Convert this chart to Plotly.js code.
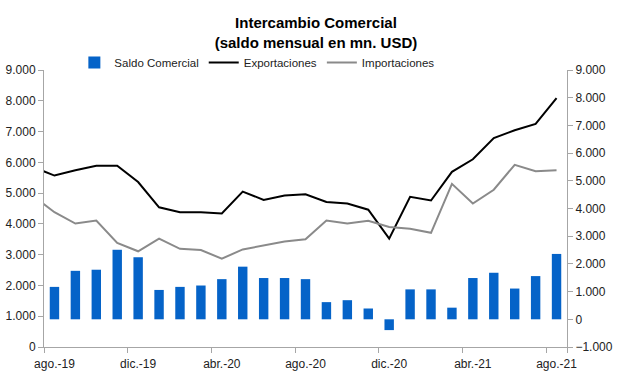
<!DOCTYPE html>
<html>
<head>
<meta charset="utf-8">
<script src="https://cdn.plot.ly/plotly-3.0.1.min.js"></script>
<style>html,body{margin:0;padding:0;background:#fff;}#chart{width:617px;height:383px;}</style>
</head>
<body>
<div id="chart"></div>
<script>
// months (jul.-19 only partially visible at the left edge of the line series)
const months = ['jul.-19','ago.-19','sep.-19','oct.-19','nov.-19','dic.-19','ene.-20','feb.-20','mar.-20','abr.-20','may.-20','jun.-20','jul.-20','ago.-20','sep.-20','oct.-20','nov.-20','dic.-20','ene.-21','feb.-21','mar.-21','abr.-21','may.-21','jun.-21','jul.-21','ago.-21'];
const exportaciones = [5840,5570,5740,5890,5890,5360,4540,4380,4380,4340,5050,4780,4920,4960,4710,4660,4460,3520,4880,4760,5690,6100,6790,7040,7250,8090];
const importaciones = [4890,4380,4010,4110,3380,3110,3520,3190,3150,2870,3170,3300,3430,3500,4110,4010,4100,3900,3840,3710,5300,4660,5110,5920,5710,5740];
const saldo = [null,1170,1750,1790,2510,2240,1060,1170,1220,1450,1900,1490,1490,1450,620,690,390,-390,1080,1080,420,1490,1680,1110,1560,2360];
const tickLabels = ['ago.-19','dic.-19','abr.-20','ago.-20','dic.-20','abr.-21','ago.-21'];

const font = 'Liberation Sans, Arial, sans-serif';
const traces = [
  {type:'bar', name:'Saldo Comercial', x:months, y:saldo, yaxis:'y', marker:{color:'#0563C8'}},
  {type:'scatter', mode:'lines', name:'Exportaciones', x:months, y:exportaciones, yaxis:'y2', line:{color:'#000000', width:2}},
  {type:'scatter', mode:'lines', name:'Importaciones', x:months, y:importaciones, yaxis:'y2', line:{color:'#8a8a8a', width:2}}
];
const axisCommon = {showgrid:false, zeroline:false, showline:true, linecolor:'#a6a6a6', linewidth:1, ticks:'outside', ticklen:5, tickcolor:'#a6a6a6', tickfont:{family:font, size:12, color:'#222'}};
const layout = {
  width:617, height:383,
  margin:{l:44, r:50, t:70, b:35.5, pad:0},
  paper_bgcolor:'#fff', plot_bgcolor:'#fff',
  separators:',.',
  font:{family:font, size:12, color:'#222'},
  title:{text:'<b>Intercambio Comercial<br>(saldo mensual en mn. USD)</b>', font:{family:font, size:15, color:'#000'}, x:0.52, xanchor:'center', xref:'paper', yref:'container', y:0.926, yanchor:'middle'},
  bargap:0.55,
  showlegend:true,
  legend:{orientation:'h', x:0.407, xanchor:'center', y:0.975, yanchor:'bottom', font:{family:font, size:11.5, color:'#222'}, traceorder:'normal', itemwidth:30, bgcolor:'rgba(0,0,0,0)'},
  xaxis: Object.assign({}, axisCommon, {type:'category', range:[0.5, 25.5], tickmode:'array', tickvals:tickLabels, tickson:'boundaries', tickangle:0, ticklabelstandoff:6}),
  yaxis: Object.assign({}, axisCommon, {side:'right', range:[-1000, 9000], dtick:1000, tick0:0, tickformat:','}),
  yaxis2: Object.assign({}, axisCommon, {side:'left', overlaying:'y', range:[0, 9000], dtick:1000, tick0:0, tickformat:','})
};
Plotly.newPlot('chart', traces, layout, {displayModeBar:false, staticPlot:true});
</script>
</body>
</html>
